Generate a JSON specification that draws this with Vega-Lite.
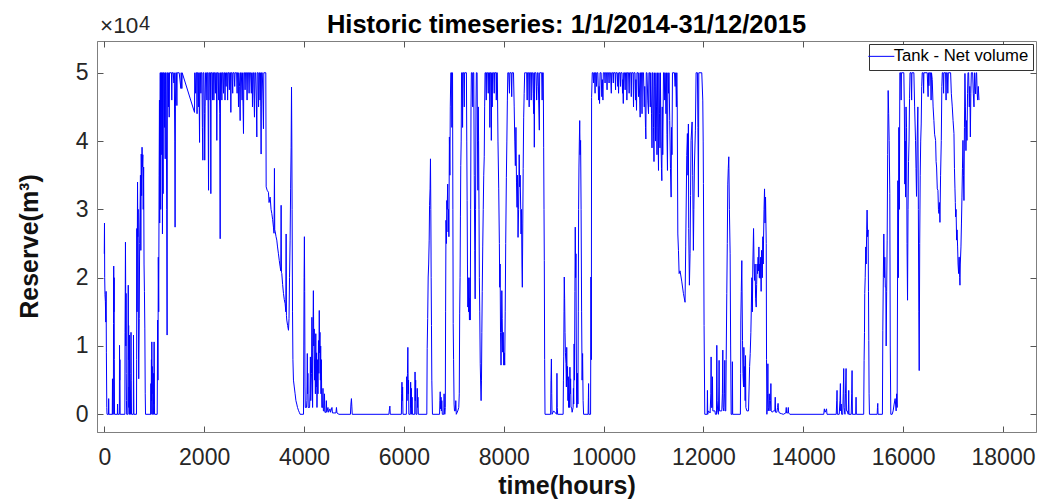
{
"$schema": "https://vega.github.io/schema/vega-lite/v6.json",
"width": 939, "height": 391,
"autosize": {"type": "none"},
"padding": {"left": 97, "top": 41, "right": 4, "bottom": 72},
"background": "white",
"config": {
 "font": "Liberation Sans",
 "view": {"stroke": "#7f7f7f", "strokeWidth": 1},
 "axis": {"grid": false, "domainColor": "#7f7f7f", "tickColor": "#555555", "labelColor": "#262626", "labelFont": "Liberation Sans", "labelFontSize": 23, "titleFont": "Liberation Sans", "titleFontWeight": "bold", "titleFontSize": 25, "titleColor": "#111111"}
},
"title": {"text": "Historic timeseries: 1/1/2014-31/12/2015", "fontSize": 25.5, "fontWeight": "bold", "font": "Liberation Sans", "color": "#000000", "baseline": "alphabetic", "offset": -17, "dy": 28, "anchor": "middle", "frame": "group"},
"layer": [
{
"data": {"values": [
{"t":0,"v":23500},{"t":4,"v":28000},{"t":8,"v":20000},{"t":14,"v":17500},{"t":22,"v":16500},{"t":30,"v":13500},{"t":36,"v":18000},{"t":42,"v":9000},{"t":50,"v":1000},{"t":55,"v":0},{"t":85,"v":0},{"t":88,"v":2300},{"t":92,"v":0},{"t":160,"v":0},{"t":164,"v":5200},{"t":168,"v":0},{"t":182,"v":0},{"t":185,"v":13300},{"t":189,"v":21700},{"t":193,"v":15000},{"t":197,"v":20000},{"t":201,"v":8000},{"t":205,"v":0},{"t":262,"v":0},{"t":266,"v":1500},{"t":270,"v":0},{"t":302,"v":0},{"t":305,"v":10100},{"t":309,"v":5000},{"t":313,"v":8000},{"t":318,"v":0},{"t":412,"v":0},{"t":416,"v":12000},{"t":420,"v":18000},{"t":424,"v":25200},{"t":428,"v":19000},{"t":432,"v":10000},{"t":436,"v":17700},{"t":440,"v":6000},{"t":444,"v":2000},{"t":448,"v":0},{"t":472,"v":0},{"t":476,"v":10000},{"t":480,"v":18900},{"t":484,"v":8000},{"t":488,"v":13000},{"t":492,"v":1000},{"t":496,"v":4000},{"t":500,"v":0},{"t":504,"v":11600},{"t":508,"v":3000},{"t":512,"v":0},{"t":518,"v":3500},{"t":522,"v":0},{"t":530,"v":6000},{"t":535,"v":12000},{"t":540,"v":5000},{"t":545,"v":0},{"t":582,"v":0},{"t":585,"v":11600},{"t":589,"v":5000},{"t":593,"v":0},{"t":645,"v":0},{"t":648,"v":8000},{"t":652,"v":27200},{"t":656,"v":15000},{"t":660,"v":22000},{"t":666,"v":34000},{"t":672,"v":26000},{"t":678,"v":30000},{"t":684,"v":10000},{"t":690,"v":5200},{"t":700,"v":14000},{"t":708,"v":25000},{"t":716,"v":29600},{"t":724,"v":35000},{"t":732,"v":24000},{"t":740,"v":38100},{"t":748,"v":32000},{"t":756,"v":39100},{"t":764,"v":36200},{"t":772,"v":38000},{"t":780,"v":30000},{"t":788,"v":36200},{"t":796,"v":22000},{"t":804,"v":18000},{"t":812,"v":12500},{"t":820,"v":3000},{"t":826,"v":0},{"t":930,"v":0},{"t":934,"v":4500},{"t":938,"v":0},{"t":944,"v":8000},{"t":948,"v":2000},{"t":952,"v":10600},{"t":956,"v":3000},{"t":960,"v":7000},{"t":964,"v":0},{"t":986,"v":0},{"t":990,"v":6000},{"t":994,"v":1500},{"t":998,"v":10600},{"t":1002,"v":4000},{"t":1006,"v":0},{"t":1060,"v":0},
{"t":1068,"v":13800},{"t":1075,"v":5000},{"t":1082,"v":23000},{"t":1090,"v":15000},{"t":1098,"v":35000},{"t":1105,"v":46000},{"t":1110,"v":28000},{"t":1118,"v":50000},{"t":1125,"v":50000},{"t":1130,"v":30000},{"t":1135,"v":50000},{"t":1145,"v":50000},{"t":1152,"v":38000},{"t":1158,"v":50000},{"t":1165,"v":26400},{"t":1170,"v":50000},{"t":1178,"v":32300},{"t":1183,"v":50000},{"t":1195,"v":50000},{"t":1205,"v":42000},{"t":1212,"v":50000},{"t":1220,"v":37400},{"t":1226,"v":50000},{"t":1240,"v":50000},{"t":1250,"v":30000},{"t":1258,"v":11600},{"t":1264,"v":50000},{"t":1275,"v":50000},{"t":1285,"v":45000},{"t":1292,"v":50000},{"t":1300,"v":43500},{"t":1306,"v":50000},{"t":1345,"v":50000},{"t":1352,"v":46000},{"t":1358,"v":50000},{"t":1380,"v":50000},{"t":1395,"v":48500},{"t":1402,"v":50000},{"t":1412,"v":40000},{"t":1418,"v":27400},{"t":1425,"v":45000},{"t":1432,"v":50000},{"t":1445,"v":50000},{"t":1454,"v":45200},{"t":1460,"v":50000},{"t":1500,"v":50000},{"t":1534,"v":47700},{"t":1540,"v":50000},{"t":1554,"v":47700},{"t":1560,"v":50000},{"t":1807,"v":44200},{"t":1812,"v":50000},{"t":1830,"v":47000},{"t":1836,"v":50000},{"t":1850,"v":50000},{"t":1858,"v":44000},{"t":1864,"v":50000},{"t":1880,"v":50000},{"t":1890,"v":45000},{"t":1896,"v":50000},{"t":1908,"v":39800},{"t":1914,"v":50000},{"t":1925,"v":50000},{"t":1935,"v":47000},{"t":1940,"v":50000},{"t":1955,"v":50000},{"t":1965,"v":42000},{"t":1974,"v":37200},{"t":1980,"v":50000},{"t":1995,"v":50000},{"t":2005,"v":44000},{"t":2012,"v":37200},{"t":2020,"v":45000},{"t":2028,"v":50000},{"t":2045,"v":50000},{"t":2055,"v":46000},{"t":2062,"v":50000},{"t":2075,"v":50000},{"t":2083,"v":40000},{"t":2088,"v":32800},{"t":2095,"v":50000},{"t":2110,"v":50000},{"t":2120,"v":46000},{"t":2127,"v":50000},{"t":2134,"v":32300},{"t":2140,"v":50000},{"t":2160,"v":50000},{"t":2168,"v":46000},{"t":2175,"v":50000},{"t":2188,"v":50000},{"t":2195,"v":46000},{"t":2202,"v":50000},{"t":2215,"v":50000},{"t":2225,"v":47000},{"t":2232,"v":50000},{"t":2245,"v":50000},{"t":2254,"v":40100},{"t":2262,"v":50000},{"t":2280,"v":50000},{"t":2292,"v":46000},{"t":2298,"v":50000},{"t":2312,"v":44000},{"t":2321,"v":25700},{"t":2328,"v":50000},{"t":2345,"v":50000},{"t":2355,"v":46000},{"t":2362,"v":50000},{"t":2375,"v":50000},{"t":2388,"v":47000},{"t":2395,"v":50000},{"t":2410,"v":50000},{"t":2418,"v":46000},{"t":2425,"v":50000},{"t":2440,"v":48000},{"t":2448,"v":50000},{"t":2462,"v":50000},{"t":2470,"v":46000},{"t":2478,"v":50000},{"t":2495,"v":50000},{"t":2505,"v":47500},{"t":2512,"v":50000},{"t":2528,"v":50000},{"t":2535,"v":44200},{"t":2542,"v":50000},{"t":2560,"v":50000},{"t":2572,"v":47000},{"t":2578,"v":50000},{"t":2600,"v":50000},{"t":2612,"v":48000},{"t":2620,"v":50000},{"t":2650,"v":50000},{"t":2660,"v":47000},{"t":2668,"v":50000},{"t":2680,"v":50000},{"t":2688,"v":45000},{"t":2695,"v":50000},{"t":2710,"v":48000},{"t":2721,"v":43000},{"t":2728,"v":50000},{"t":2745,"v":50000},{"t":2760,"v":46000},{"t":2768,"v":50000},{"t":2780,"v":45000},{"t":2788,"v":41100},{"t":2795,"v":50000},{"t":2810,"v":50000},{"t":2820,"v":47500},{"t":2828,"v":50000},{"t":2850,"v":50000},{"t":2860,"v":46000},{"t":2868,"v":50000},{"t":2890,"v":50000},{"t":2900,"v":47000},{"t":2908,"v":50000},{"t":2930,"v":50000},{"t":2945,"v":47000},{"t":2953,"v":50000},{"t":2962,"v":49000},{"t":2968,"v":45000},{"t":2975,"v":50000},{"t":2990,"v":50000},{"t":3000,"v":46000},{"t":3008,"v":43500},{"t":3015,"v":50000},{"t":3030,"v":50000},{"t":3045,"v":46000},{"t":3055,"v":40600},{"t":3062,"v":50000},{"t":3080,"v":50000},{"t":3090,"v":45000},{"t":3098,"v":50000},{"t":3110,"v":50000},{"t":3120,"v":46000},{"t":3128,"v":50000},{"t":3135,"v":45000},{"t":3141,"v":38100},{"t":3148,"v":50000},{"t":3165,"v":50000},{"t":3178,"v":46000},{"t":3188,"v":41800},{"t":3195,"v":50000},{"t":3235,"v":50000},
{"t":3242,"v":33300},{"t":3262,"v":32800},{"t":3288,"v":32500},{"t":3300,"v":31000},{"t":3322,"v":31800},{"t":3340,"v":30000},{"t":3355,"v":29400},{"t":3372,"v":28500},{"t":3388,"v":27400},{"t":3400,"v":26500},{"t":3408,"v":36000},{"t":3414,"v":27000},{"t":3422,"v":26800},{"t":3440,"v":26000},{"t":3455,"v":25500},{"t":3470,"v":24500},{"t":3488,"v":23500},{"t":3505,"v":22500},{"t":3522,"v":21600},{"t":3535,"v":21000},{"t":3542,"v":30600},{"t":3548,"v":20800},{"t":3555,"v":20600},{"t":3572,"v":19000},{"t":3589,"v":17700},{"t":3605,"v":16800},{"t":3622,"v":16200},{"t":3636,"v":15000},{"t":3642,"v":26400},{"t":3648,"v":14500},{"t":3655,"v":13800},{"t":3672,"v":13000},{"t":3689,"v":12300},{"t":3700,"v":14000},{"t":3710,"v":20000},{"t":3722,"v":25500},{"t":3732,"v":33000},{"t":3742,"v":39100},{"t":3750,"v":47900},{"t":3756,"v":40000},{"t":3762,"v":30000},{"t":3770,"v":15000},{"t":3778,"v":8000},{"t":3789,"v":5000},{"t":3805,"v":4000},{"t":3822,"v":3000},{"t":3838,"v":2000},{"t":3855,"v":1500},{"t":3870,"v":1000},{"t":3888,"v":600},{"t":3905,"v":300},{"t":3922,"v":0},{"t":3990,"v":0},{"t":3996,"v":10000},{"t":4002,"v":20000},{"t":4008,"v":26000},{"t":4014,"v":18000},{"t":4020,"v":4000},{"t":4026,"v":1000},{"t":4050,"v":1000},{"t":4058,"v":2000},{"t":4066,"v":8900},{"t":4072,"v":3000},{"t":4078,"v":6000},{"t":4084,"v":1000},{"t":4112,"v":1000},{"t":4120,"v":3000},{"t":4128,"v":8400},{"t":4136,"v":2000},{"t":4150,"v":6000},{"t":4158,"v":14200},{"t":4166,"v":9000},{"t":4172,"v":1000},{"t":4180,"v":12000},{"t":4188,"v":18100},{"t":4196,"v":10000},{"t":4204,"v":12500},{"t":4212,"v":5000},{"t":4220,"v":8000},{"t":4228,"v":3000},{"t":4236,"v":11800},{"t":4244,"v":4000},{"t":4252,"v":9000},{"t":4260,"v":1000},{"t":4272,"v":8000},{"t":4280,"v":3000},{"t":4290,"v":10800},{"t":4298,"v":6000},{"t":4306,"v":15200},{"t":4312,"v":9000},{"t":4320,"v":12000},{"t":4328,"v":5000},{"t":4334,"v":10000},{"t":4340,"v":3000},{"t":4348,"v":8000},{"t":4356,"v":1000},{"t":4372,"v":1000},{"t":4380,"v":3800},{"t":4388,"v":500},{"t":4400,"v":500},{"t":4410,"v":3000},{"t":4418,"v":300},{"t":4440,"v":300},{"t":4448,"v":2000},{"t":4456,"v":300},{"t":4480,"v":1000},{"t":4490,"v":300},{"t":4520,"v":800},{"t":4530,"v":300},{"t":4560,"v":1000},{"t":4570,"v":200},{"t":4640,"v":200},{"t":4650,"v":1000},{"t":4660,"v":200},{"t":4700,"v":0},{"t":4930,"v":0},{"t":4940,"v":1500},{"t":4950,"v":2300},{"t":4958,"v":1200},{"t":4966,"v":0},{"t":5700,"v":0},{"t":5712,"v":800},{"t":5720,"v":1200},{"t":5728,"v":0},
{"t":5950,"v":0},{"t":5956,"v":3000},{"t":5962,"v":4700},{"t":5968,"v":2000},{"t":5975,"v":4000},{"t":5982,"v":0},{"t":6050,"v":0},{"t":6056,"v":5500},{"t":6064,"v":2000},{"t":6072,"v":6000},{"t":6080,"v":9800},{"t":6088,"v":3000},{"t":6094,"v":5000},{"t":6100,"v":0},{"t":6130,"v":0},{"t":6136,"v":4700},{"t":6142,"v":1000},{"t":6150,"v":3800},{"t":6156,"v":0},{"t":6165,"v":2500},{"t":6172,"v":0},{"t":6218,"v":0},{"t":6224,"v":6200},{"t":6230,"v":2000},{"t":6236,"v":5000},{"t":6242,"v":0},{"t":6262,"v":0},{"t":6268,"v":3800},{"t":6275,"v":1000},{"t":6282,"v":2500},{"t":6290,"v":0},{"t":6460,"v":0},{"t":6467,"v":9600},{"t":6477,"v":14000},{"t":6487,"v":20100},{"t":6497,"v":22000},{"t":6507,"v":25500},{"t":6515,"v":30600},{"t":6525,"v":33000},{"t":6533,"v":37400},{"t":6540,"v":30000},{"t":6547,"v":20000},{"t":6553,"v":13000},{"t":6560,"v":5000},{"t":6573,"v":0},{"t":6715,"v":0},{"t":6722,"v":2000},{"t":6728,"v":3300},{"t":6735,"v":800},{"t":6745,"v":2500},{"t":6752,"v":500},{"t":6760,"v":2000},{"t":6770,"v":0},{"t":6800,"v":0},{"t":6806,"v":3000},{"t":6812,"v":1000},{"t":6820,"v":0},{"t":6830,"v":1000},{"t":6836,"v":15000},{"t":6844,"v":28400},{"t":6852,"v":25000},{"t":6860,"v":31300},{"t":6868,"v":30000},{"t":6878,"v":33700},{"t":6886,"v":26700},{"t":6894,"v":30000},{"t":6902,"v":26000},{"t":6912,"v":40600},{"t":6922,"v":35000},{"t":6930,"v":45000},{"t":6940,"v":50000},{"t":6955,"v":50000},{"t":6962,"v":42000},{"t":6968,"v":50000},{"t":6975,"v":50000},{"t":6982,"v":30000},{"t":6988,"v":13300},{"t":6996,"v":8000},{"t":7006,"v":1500},{"t":7014,"v":500},{"t":7030,"v":500},{"t":7040,"v":2000},{"t":7050,"v":0},{"t":7080,"v":500},{"t":7100,"v":1000},{"t":7110,"v":3000},{"t":7118,"v":14700},{"t":7126,"v":20000},{"t":7133,"v":28900},{"t":7140,"v":36400},{"t":7148,"v":40000},{"t":7156,"v":50000},{"t":7170,"v":50000},{"t":7176,"v":42000},{"t":7182,"v":50000},{"t":7200,"v":50000},{"t":7210,"v":45000},{"t":7216,"v":50000},{"t":7253,"v":50000},{"t":7260,"v":40000},{"t":7267,"v":31300},{"t":7274,"v":22000},{"t":7282,"v":15700},{"t":7290,"v":20000},{"t":7298,"v":15000},{"t":7306,"v":17000},{"t":7314,"v":13800},{"t":7322,"v":20000},{"t":7330,"v":13800},{"t":7338,"v":30000},{"t":7345,"v":45000},{"t":7352,"v":50000},{"t":7370,"v":50000},{"t":7380,"v":45000},{"t":7386,"v":50000},{"t":7400,"v":50000},{"t":7410,"v":35000},{"t":7420,"v":24000},{"t":7428,"v":16900},{"t":7436,"v":30000},{"t":7445,"v":45000},{"t":7452,"v":50000},{"t":7467,"v":50000},{"t":7475,"v":40000},{"t":7483,"v":32800},{"t":7490,"v":45000},{"t":7497,"v":40100},{"t":7505,"v":30000},{"t":7512,"v":20000},{"t":7520,"v":15000},{"t":7530,"v":7400},{"t":7540,"v":4000},{"t":7547,"v":2000},{"t":7555,"v":5000},{"t":7562,"v":12000},{"t":7570,"v":18000},{"t":7580,"v":24500},{"t":7590,"v":30000},{"t":7600,"v":35000},{"t":7610,"v":37700},{"t":7618,"v":45000},{"t":7626,"v":50000},{"t":7640,"v":50000},{"t":7650,"v":46000},{"t":7656,"v":50000},{"t":7680,"v":50000},{"t":7690,"v":47000},{"t":7696,"v":50000},{"t":7715,"v":50000},{"t":7722,"v":42000},{"t":7730,"v":50000},{"t":7745,"v":50000},{"t":7752,"v":40100},{"t":7760,"v":50000},{"t":7770,"v":45000},{"t":7777,"v":50000},{"t":7800,"v":50000},{"t":7810,"v":47000},{"t":7816,"v":50000},{"t":7845,"v":50000},{"t":7852,"v":46000},{"t":7858,"v":50000},{"t":7872,"v":50000},{"t":7885,"v":40000},{"t":7900,"v":33000},{"t":7913,"v":25000},{"t":7920,"v":18600},{"t":7928,"v":22000},{"t":7936,"v":12000},{"t":7946,"v":7200},{"t":7954,"v":12000},{"t":7962,"v":18100},{"t":7970,"v":14000},{"t":7980,"v":9100},{"t":7990,"v":12000},{"t":8000,"v":7200},{"t":8010,"v":9000},{"t":8020,"v":7200},{"t":8030,"v":15000},{"t":8040,"v":25000},{"t":8053,"v":34700},{"t":8063,"v":40000},{"t":8073,"v":46000},{"t":8082,"v":50000},{"t":8100,"v":50000},{"t":8115,"v":47000},{"t":8122,"v":50000},{"t":8150,"v":50000},{"t":8160,"v":46500},{"t":8167,"v":50000},{"t":8196,"v":50000},{"t":8210,"v":45000},{"t":8222,"v":40000},{"t":8233,"v":36400},{"t":8245,"v":42000},{"t":8256,"v":34000},{"t":8267,"v":30300},{"t":8277,"v":35000},{"t":8287,"v":25900},{"t":8298,"v":30000},{"t":8310,"v":38000},{"t":8320,"v":33300},{"t":8330,"v":35000},{"t":8340,"v":30000},{"t":8347,"v":26400},{"t":8356,"v":30000},{"t":8365,"v":22000},{"t":8373,"v":18600},{"t":8382,"v":28000},{"t":8390,"v":36000},{"t":8400,"v":43500},{"t":8410,"v":47000},{"t":8420,"v":50000},{"t":8440,"v":50000},{"t":8460,"v":50000},{"t":8470,"v":46000},{"t":8476,"v":50000},{"t":8500,"v":50000},{"t":8510,"v":45000},{"t":8516,"v":50000},{"t":8540,"v":50000},{"t":8550,"v":46000},{"t":8556,"v":50000},{"t":8580,"v":50000},{"t":8590,"v":47000},{"t":8600,"v":44000},{"t":8606,"v":50000},{"t":8613,"v":39100},{"t":8620,"v":50000},{"t":8645,"v":50000},{"t":8660,"v":46000},{"t":8667,"v":48000},{"t":8674,"v":50000},{"t":8690,"v":50000},{"t":8700,"v":46000},{"t":8713,"v":41600},{"t":8720,"v":50000},{"t":8760,"v":50000},{"t":8770,"v":46000},{"t":8778,"v":50000},{"t":8792,"v":50000},{"t":8800,"v":39100},{"t":8807,"v":30000},{"t":8813,"v":22500},{"t":8820,"v":8000},{"t":8827,"v":0},
{"t":8940,"v":0},{"t":8947,"v":5000},{"t":8955,"v":8100},{"t":8962,"v":3000},{"t":8968,"v":0},{"t":9000,"v":500},{"t":9060,"v":0},{"t":9066,"v":6000},{"t":9072,"v":1000},{"t":9080,"v":0},{"t":9190,"v":0},{"t":9196,"v":5000},{"t":9202,"v":8400},{"t":9208,"v":15000},{"t":9213,"v":20100},{"t":9220,"v":16900},{"t":9228,"v":12000},{"t":9236,"v":9000},{"t":9247,"v":7400},{"t":9255,"v":4000},{"t":9262,"v":9800},{"t":9270,"v":5000},{"t":9278,"v":7000},{"t":9286,"v":2000},{"t":9294,"v":5500},{"t":9300,"v":1000},{"t":9310,"v":3000},{"t":9318,"v":1000},{"t":9326,"v":6900},{"t":9333,"v":3000},{"t":9340,"v":5200},{"t":9348,"v":1000},{"t":9360,"v":1000},{"t":9370,"v":300},{"t":9390,"v":1000},{"t":9396,"v":3800},{"t":9402,"v":1500},{"t":9410,"v":10300},{"t":9418,"v":5000},{"t":9426,"v":18000},{"t":9433,"v":27400},{"t":9440,"v":20000},{"t":9447,"v":23500},{"t":9454,"v":10000},{"t":9460,"v":1000},{"t":9470,"v":1000},{"t":9478,"v":6000},{"t":9486,"v":1500},{"t":9494,"v":15000},{"t":9500,"v":30000},{"t":9507,"v":36200},{"t":9515,"v":40000},{"t":9522,"v":43000},{"t":9530,"v":38000},{"t":9540,"v":40100},{"t":9550,"v":30000},{"t":9560,"v":15000},{"t":9570,"v":5000},{"t":9580,"v":8900},{"t":9590,"v":2000},{"t":9600,"v":0},{"t":9690,"v":0},{"t":9696,"v":2500},{"t":9700,"v":4500},{"t":9705,"v":0},{"t":9740,"v":0},
{"t":9747,"v":20100},{"t":9755,"v":8000},{"t":9760,"v":46400},{"t":9773,"v":50000},{"t":9790,"v":50000},{"t":9800,"v":48500},{"t":9806,"v":50000},{"t":9820,"v":50000},{"t":9830,"v":47000},{"t":9836,"v":50000},{"t":9850,"v":50000},{"t":9860,"v":48000},{"t":9866,"v":50000},{"t":9885,"v":50000},{"t":9900,"v":46000},{"t":9910,"v":48000},{"t":9920,"v":45500},{"t":9930,"v":50000},{"t":9950,"v":50000},{"t":9965,"v":46500},{"t":9975,"v":49000},{"t":9987,"v":46000},{"t":9995,"v":50000},{"t":10020,"v":50000},{"t":10030,"v":48500},{"t":10036,"v":50000},{"t":10060,"v":50000},{"t":10070,"v":47500},{"t":10076,"v":50000},{"t":10100,"v":50000},{"t":10110,"v":48500},{"t":10116,"v":50000},{"t":10140,"v":50000},{"t":10155,"v":47000},{"t":10162,"v":50000},{"t":10185,"v":50000},{"t":10195,"v":48500},{"t":10200,"v":50000},{"t":10230,"v":50000},{"t":10240,"v":47500},{"t":10246,"v":50000},{"t":10270,"v":50000},{"t":10285,"v":48000},{"t":10292,"v":50000},{"t":10300,"v":47000},{"t":10310,"v":50000},{"t":10330,"v":50000},{"t":10340,"v":48000},{"t":10346,"v":50000},{"t":10370,"v":50000},{"t":10380,"v":47000},{"t":10386,"v":49000},{"t":10395,"v":45500},{"t":10402,"v":50000},{"t":10420,"v":50000},{"t":10432,"v":47500},{"t":10440,"v":50000},{"t":10460,"v":50000},{"t":10467,"v":46000},{"t":10474,"v":50000},{"t":10500,"v":50000},{"t":10512,"v":47000},{"t":10520,"v":50000},{"t":10545,"v":50000},{"t":10555,"v":46500},{"t":10562,"v":50000},{"t":10590,"v":50000},{"t":10600,"v":45000},{"t":10608,"v":50000},{"t":10630,"v":50000},{"t":10640,"v":46000},{"t":10648,"v":49000},{"t":10660,"v":44500},{"t":10668,"v":50000},{"t":10690,"v":50000},{"t":10700,"v":46500},{"t":10708,"v":50000},{"t":10725,"v":46000},{"t":10733,"v":43500},{"t":10740,"v":50000},{"t":10760,"v":50000},{"t":10770,"v":44000},{"t":10778,"v":50000},{"t":10800,"v":50000},{"t":10815,"v":45000},{"t":10825,"v":48000},{"t":10840,"v":42000},{"t":10847,"v":40300},{"t":10855,"v":50000},{"t":10870,"v":50000},{"t":10885,"v":46000},{"t":10900,"v":44000},{"t":10908,"v":50000},{"t":10925,"v":50000},{"t":10935,"v":45000},{"t":10945,"v":50000},{"t":10960,"v":44000},{"t":10970,"v":39000},{"t":10978,"v":50000},{"t":10990,"v":50000},{"t":11000,"v":42000},{"t":11010,"v":37000},{"t":11018,"v":50000},{"t":11030,"v":48000},{"t":11040,"v":40000},{"t":11048,"v":50000},{"t":11060,"v":45000},{"t":11070,"v":38000},{"t":11078,"v":50000},{"t":11090,"v":42000},{"t":11100,"v":35700},{"t":11108,"v":50000},{"t":11120,"v":44000},{"t":11130,"v":39000},{"t":11138,"v":50000},{"t":11150,"v":40000},{"t":11160,"v":36000},{"t":11167,"v":34200},{"t":11175,"v":45000},{"t":11185,"v":38000},{"t":11200,"v":50000},{"t":11215,"v":50000},{"t":11225,"v":46000},{"t":11233,"v":50000},{"t":11250,"v":44000},{"t":11260,"v":50000},{"t":11270,"v":41000},{"t":11280,"v":35700},{"t":11288,"v":50000},{"t":11300,"v":47000},{"t":11310,"v":50000},{"t":11325,"v":43000},{"t":11340,"v":36000},{"t":11353,"v":31800},{"t":11360,"v":42000},{"t":11370,"v":38000},{"t":11380,"v":50000},{"t":11420,"v":50000},{"t":11433,"v":48000},{"t":11445,"v":50000},{"t":11458,"v":45000},{"t":11467,"v":50000},{"t":11475,"v":46000},{"t":11487,"v":26400},{"t":11500,"v":24000},{"t":11513,"v":20600},{"t":11532,"v":21000},{"t":11565,"v":19500},{"t":11599,"v":17700},{"t":11632,"v":16400},{"t":11645,"v":24500},{"t":11666,"v":37900},{"t":11679,"v":41100},{"t":11690,"v":35000},{"t":11699,"v":42500},{"t":11705,"v":27200},{"t":11719,"v":18900},{"t":11732,"v":23500},{"t":11742,"v":32000},{"t":11752,"v":40100},{"t":11773,"v":42800},{"t":11785,"v":35000},{"t":11799,"v":24000},{"t":11808,"v":30000},{"t":11819,"v":36200},{"t":11839,"v":41600},{"t":11853,"v":50000},{"t":11880,"v":50000},{"t":11890,"v":42000},{"t":11900,"v":31800},{"t":11907,"v":50000},{"t":11967,"v":50000},{"t":11987,"v":46000},{"t":11995,"v":40000},{"t":12000,"v":33800},{"t":12013,"v":13000},{"t":12027,"v":0},
{"t":12075,"v":0},{"t":12080,"v":3500},{"t":12086,"v":0},{"t":12100,"v":500},{"t":12134,"v":200},{"t":12148,"v":3000},{"t":12154,"v":8400},{"t":12160,"v":1000},{"t":12175,"v":1000},{"t":12181,"v":5500},{"t":12188,"v":500},{"t":12230,"v":500},{"t":12240,"v":0},{"t":12262,"v":0},{"t":12268,"v":10100},{"t":12275,"v":2000},{"t":12285,"v":500},{"t":12300,"v":0},{"t":12310,"v":4000},{"t":12314,"v":7900},{"t":12320,"v":500},{"t":12368,"v":500},{"t":12380,"v":3000},{"t":12388,"v":9400},{"t":12395,"v":1000},{"t":12408,"v":500},{"t":12420,"v":3000},{"t":12428,"v":7900},{"t":12436,"v":500},{"t":12448,"v":500},{"t":12456,"v":8000},{"t":12468,"v":17700},{"t":12478,"v":25000},{"t":12488,"v":33700},{"t":12498,"v":36000},{"t":12508,"v":37700},{"t":12520,"v":30000},{"t":12535,"v":23500},{"t":12545,"v":10000},{"t":12555,"v":0},{"t":12575,"v":0},{"t":12580,"v":7700},{"t":12586,"v":0},{"t":12740,"v":0},{"t":12745,"v":6000},{"t":12749,"v":13800},{"t":12758,"v":18000},{"t":12769,"v":22500},{"t":12776,"v":16000},{"t":12783,"v":10800},{"t":12792,"v":6000},{"t":12803,"v":4000},{"t":12810,"v":9800},{"t":12818,"v":4000},{"t":12828,"v":7000},{"t":12836,"v":2000},{"t":12843,"v":8600},{"t":12850,"v":1000},{"t":12870,"v":500},{"t":12903,"v":500},{"t":12915,"v":4000},{"t":12925,"v":7000},{"t":12937,"v":8900},{"t":12950,"v":12000},{"t":12960,"v":15700},{"t":12970,"v":20000},{"t":12980,"v":15000},{"t":12990,"v":22000},{"t":13004,"v":27200},{"t":13014,"v":22000},{"t":13024,"v":19600},{"t":13035,"v":22000},{"t":13045,"v":17000},{"t":13057,"v":15700},{"t":13066,"v":19000},{"t":13075,"v":22000},{"t":13084,"v":20600},{"t":13095,"v":23000},{"t":13104,"v":21000},{"t":13111,"v":24500},{"t":13120,"v":20000},{"t":13128,"v":22000},{"t":13137,"v":19900},{"t":13147,"v":23000},{"t":13156,"v":18000},{"t":13163,"v":24000},{"t":13171,"v":22500},{"t":13180,"v":20000},{"t":13190,"v":26000},{"t":13197,"v":22000},{"t":13204,"v":25500},{"t":13214,"v":30000},{"t":13224,"v":33000},{"t":13234,"v":28000},{"t":13244,"v":31800},{"t":13252,"v":28000},{"t":13258,"v":25000},{"t":13264,"v":8000},{"t":13271,"v":0},{"t":13285,"v":3000},{"t":13291,"v":7400},{"t":13297,"v":500},{"t":13310,"v":1000},{"t":13318,"v":3000},{"t":13325,"v":2000},{"t":13333,"v":500},{"t":13345,"v":2000},{"t":13351,"v":4500},{"t":13358,"v":500},{"t":13380,"v":300},{"t":13400,"v":500},{"t":13430,"v":500},{"t":13438,"v":2500},{"t":13445,"v":300},{"t":13470,"v":300},{"t":13485,"v":1000},{"t":13495,"v":1600},{"t":13505,"v":500},{"t":13520,"v":200},{"t":13560,"v":100},{"t":13600,"v":0},{"t":13650,"v":200},{"t":13659,"v":1000},{"t":13665,"v":200},{"t":13690,"v":200},{"t":13700,"v":1000},{"t":13706,"v":200},{"t":13730,"v":0},{"t":14410,"v":0},{"t":14422,"v":800},{"t":14435,"v":300},{"t":14450,"v":500},{"t":14465,"v":800},{"t":14475,"v":0},{"t":14660,"v":0},{"t":14670,"v":2000},{"t":14676,"v":3500},{"t":14683,"v":0},{"t":14720,"v":0},{"t":14735,"v":2000},{"t":14743,"v":4500},{"t":14750,"v":500},{"t":14760,"v":1500},{"t":14768,"v":0},{"t":14790,"v":0},{"t":14800,"v":3000},{"t":14810,"v":6700},{"t":14817,"v":1000},{"t":14825,"v":500},{"t":14835,"v":0},{"t":14845,"v":3000},{"t":14857,"v":6700},{"t":14864,"v":500},{"t":14880,"v":500},{"t":14900,"v":0},{"t":14905,"v":1500},{"t":14910,"v":3500},{"t":14916,"v":0},{"t":14960,"v":0},{"t":14970,"v":3000},{"t":14977,"v":6400},{"t":14984,"v":0},{"t":15050,"v":0},{"t":15057,"v":2500},{"t":15063,"v":0},{"t":15210,"v":0},{"t":15218,"v":7900},{"t":15226,"v":12000},{"t":15231,"v":17700},{"t":15240,"v":20000},{"t":15251,"v":24500},{"t":15260,"v":22000},{"t":15270,"v":27000},{"t":15278,"v":29900},{"t":15288,"v":26000},{"t":15298,"v":27000},{"t":15306,"v":18000},{"t":15312,"v":10800},{"t":15318,"v":3000},{"t":15325,"v":0},{"t":15480,"v":0},{"t":15486,"v":1000},{"t":15492,"v":1600},{"t":15498,"v":0},{"t":15585,"v":0},{"t":15593,"v":12300},{"t":15603,"v":20000},{"t":15613,"v":26400},{"t":15623,"v":20000},{"t":15633,"v":23000},{"t":15643,"v":18600},{"t":15653,"v":18600},{"t":15660,"v":10000},{"t":15670,"v":18000},{"t":15680,"v":25500},{"t":15690,"v":38000},{"t":15700,"v":47400},{"t":15710,"v":44000},{"t":15720,"v":40100},{"t":15733,"v":32300},{"t":15742,"v":10000},{"t":15753,"v":0},{"t":15780,"v":0},{"t":15800,"v":500},{"t":15820,"v":1500},{"t":15840,"v":2300},{"t":15860,"v":500},{"t":15870,"v":3000},{"t":15880,"v":1000},
{"t":15894,"v":34200},{"t":15904,"v":20000},{"t":15914,"v":42000},{"t":15924,"v":30000},{"t":15934,"v":50000},{"t":15950,"v":50000},{"t":15960,"v":46000},{"t":15966,"v":50000},{"t":16014,"v":50000},{"t":16024,"v":45000},{"t":16034,"v":33700},{"t":16041,"v":40000},{"t":16048,"v":31800},{"t":16058,"v":45000},{"t":16068,"v":42000},{"t":16078,"v":25000},{"t":16088,"v":16700},{"t":16098,"v":30000},{"t":16108,"v":37000},{"t":16118,"v":40000},{"t":16128,"v":46200},{"t":16138,"v":50000},{"t":16160,"v":50000},{"t":16170,"v":46000},{"t":16176,"v":50000},{"t":16215,"v":50000},{"t":16230,"v":45000},{"t":16248,"v":40100},{"t":16258,"v":36000},{"t":16268,"v":31900},{"t":16280,"v":40000},{"t":16295,"v":45000},{"t":16305,"v":30000},{"t":16314,"v":15000},{"t":16322,"v":6400},{"t":16332,"v":25000},{"t":16342,"v":35000},{"t":16352,"v":40000},{"t":16362,"v":42500},{"t":16372,"v":48000},{"t":16382,"v":50000},{"t":16400,"v":50000},{"t":16410,"v":47000},{"t":16416,"v":50000},{"t":16482,"v":50000},{"t":16500,"v":46500},{"t":16507,"v":50000},{"t":16516,"v":48100},{"t":16525,"v":50000},{"t":16549,"v":50000},{"t":16560,"v":46000},{"t":16568,"v":50000},{"t":16583,"v":49000},{"t":16600,"v":45000},{"t":16616,"v":43000},{"t":16630,"v":41000},{"t":16650,"v":40100},{"t":16660,"v":37000},{"t":16670,"v":36200},{"t":16684,"v":33000},{"t":16697,"v":32800},{"t":16707,"v":30000},{"t":16717,"v":29400},{"t":16727,"v":31000},{"t":16737,"v":28100},{"t":16750,"v":35000},{"t":16764,"v":40100},{"t":16775,"v":48000},{"t":16784,"v":50000},{"t":16800,"v":50000},{"t":16810,"v":47000},{"t":16817,"v":50000},{"t":16850,"v":50000},{"t":16860,"v":46000},{"t":16866,"v":50000},{"t":16884,"v":50000},{"t":16895,"v":47000},{"t":16905,"v":50000},{"t":16951,"v":50000},{"t":16965,"v":47000},{"t":16984,"v":45000},{"t":17000,"v":43000},{"t":17018,"v":41100},{"t":17028,"v":36000},{"t":17038,"v":33000},{"t":17045,"v":31000},{"t":17051,"v":28900},{"t":17060,"v":30000},{"t":17071,"v":25500},{"t":17080,"v":27000},{"t":17091,"v":24500},{"t":17100,"v":22000},{"t":17111,"v":20600},{"t":17118,"v":23000},{"t":17125,"v":23000},{"t":17132,"v":20000},{"t":17138,"v":18900},{"t":17145,"v":22000},{"t":17158,"v":24500},{"t":17168,"v":28000},{"t":17178,"v":31800},{"t":17188,"v":36000},{"t":17198,"v":40100},{"t":17208,"v":35000},{"t":17218,"v":31300},{"t":17228,"v":42000},{"t":17238,"v":49900},{"t":17248,"v":45000},{"t":17258,"v":38600},{"t":17268,"v":43000},{"t":17279,"v":40100},{"t":17290,"v":47000},{"t":17299,"v":50000},{"t":17312,"v":50000},{"t":17325,"v":45000},{"t":17335,"v":48000},{"t":17346,"v":40600},{"t":17356,"v":47000},{"t":17366,"v":50000},{"t":17392,"v":50000},{"t":17405,"v":47000},{"t":17419,"v":45000},{"t":17430,"v":50000},{"t":17440,"v":48000},{"t":17452,"v":46900},{"t":17462,"v":50000},{"t":17472,"v":50000},{"t":17483,"v":47000},{"t":17493,"v":46000},{"t":17505,"v":48000},{"t":17519,"v":46000}
]},
"mark": {"type": "line", "strokeWidth": 1, "clip": true},
"encoding": {
 "x": {"field": "t", "type": "quantitative", "scale": {"domain": [-146, 18661], "nice": false, "zero": false},
   "axis": {"values": [0,2000,4000,6000,8000,10000,12000,14000,16000,18000], "format": "d", "title": "time(hours)", "tickSize": -6, "labelPadding": 20, "titleBaseline": "alphabetic", "titleY": 61}},
 "y": {"field": "v", "type": "quantitative", "scale": {"domain": [-2590, 54650], "nice": false, "zero": false},
   "axis": {"values": [0,10000,20000,30000,40000,50000], "labelExpr": "datum.value/10000", "title": "Reserve(m³)", "tickSize": -6, "labelPadding": 15, "titleBaseline": "alphabetic", "titleX": -60, "titleY": 205, "titleAngle": -90}},
 "color": {"datum": "Tank - Net volume", "type": "nominal", "scale": {"range": ["#0000ff"]},
   "legend": {"orient": "top-right", "offset": 3, "title": null, "symbolType": "M-2,0H2", "symbolSize": 169, "symbolStrokeWidth": 1, "labelFontSize": 16.7, "labelColor": "#000000", "labelFont": "Liberation Sans", "strokeColor": "#333333", "fillColor": "white", "padding": 4, "labelOffset": 4, "cornerRadius": 0}}
}
},
{
"data": {"values": [{"k": 1}]},
"mark": {"type": "text", "text": "×10", "align": "left", "baseline": "alphabetic", "dx": 3, "dy": -8, "fontSize": 22.5, "font": "Liberation Sans", "color": "#262626"},
"encoding": {
 "x": {"datum": -146, "type": "quantitative", "axis": {"orient": "top", "values": [0,2000,4000,6000,8000,10000,12000,14000,16000,18000], "labels": false, "domain": false, "title": null, "tickSize": -6}},
 "y": {"datum": 54650, "type": "quantitative", "axis": {"orient": "right", "values": [0,10000,20000,30000,40000,50000], "labels": false, "domain": false, "title": null, "tickSize": -6}}
}
},
{
"data": {"values": [{"k": 1}]},
"mark": {"type": "text", "text": "4", "align": "left", "baseline": "alphabetic", "dx": 42, "dy": -11.5, "fontSize": 20, "font": "Liberation Sans", "color": "#262626"},
"encoding": {
 "x": {"datum": -146, "type": "quantitative", "axis": null},
 "y": {"datum": 54650, "type": "quantitative", "axis": null}
}
}
],
"resolve": {"axis": {"x": "independent", "y": "independent"}}
}
